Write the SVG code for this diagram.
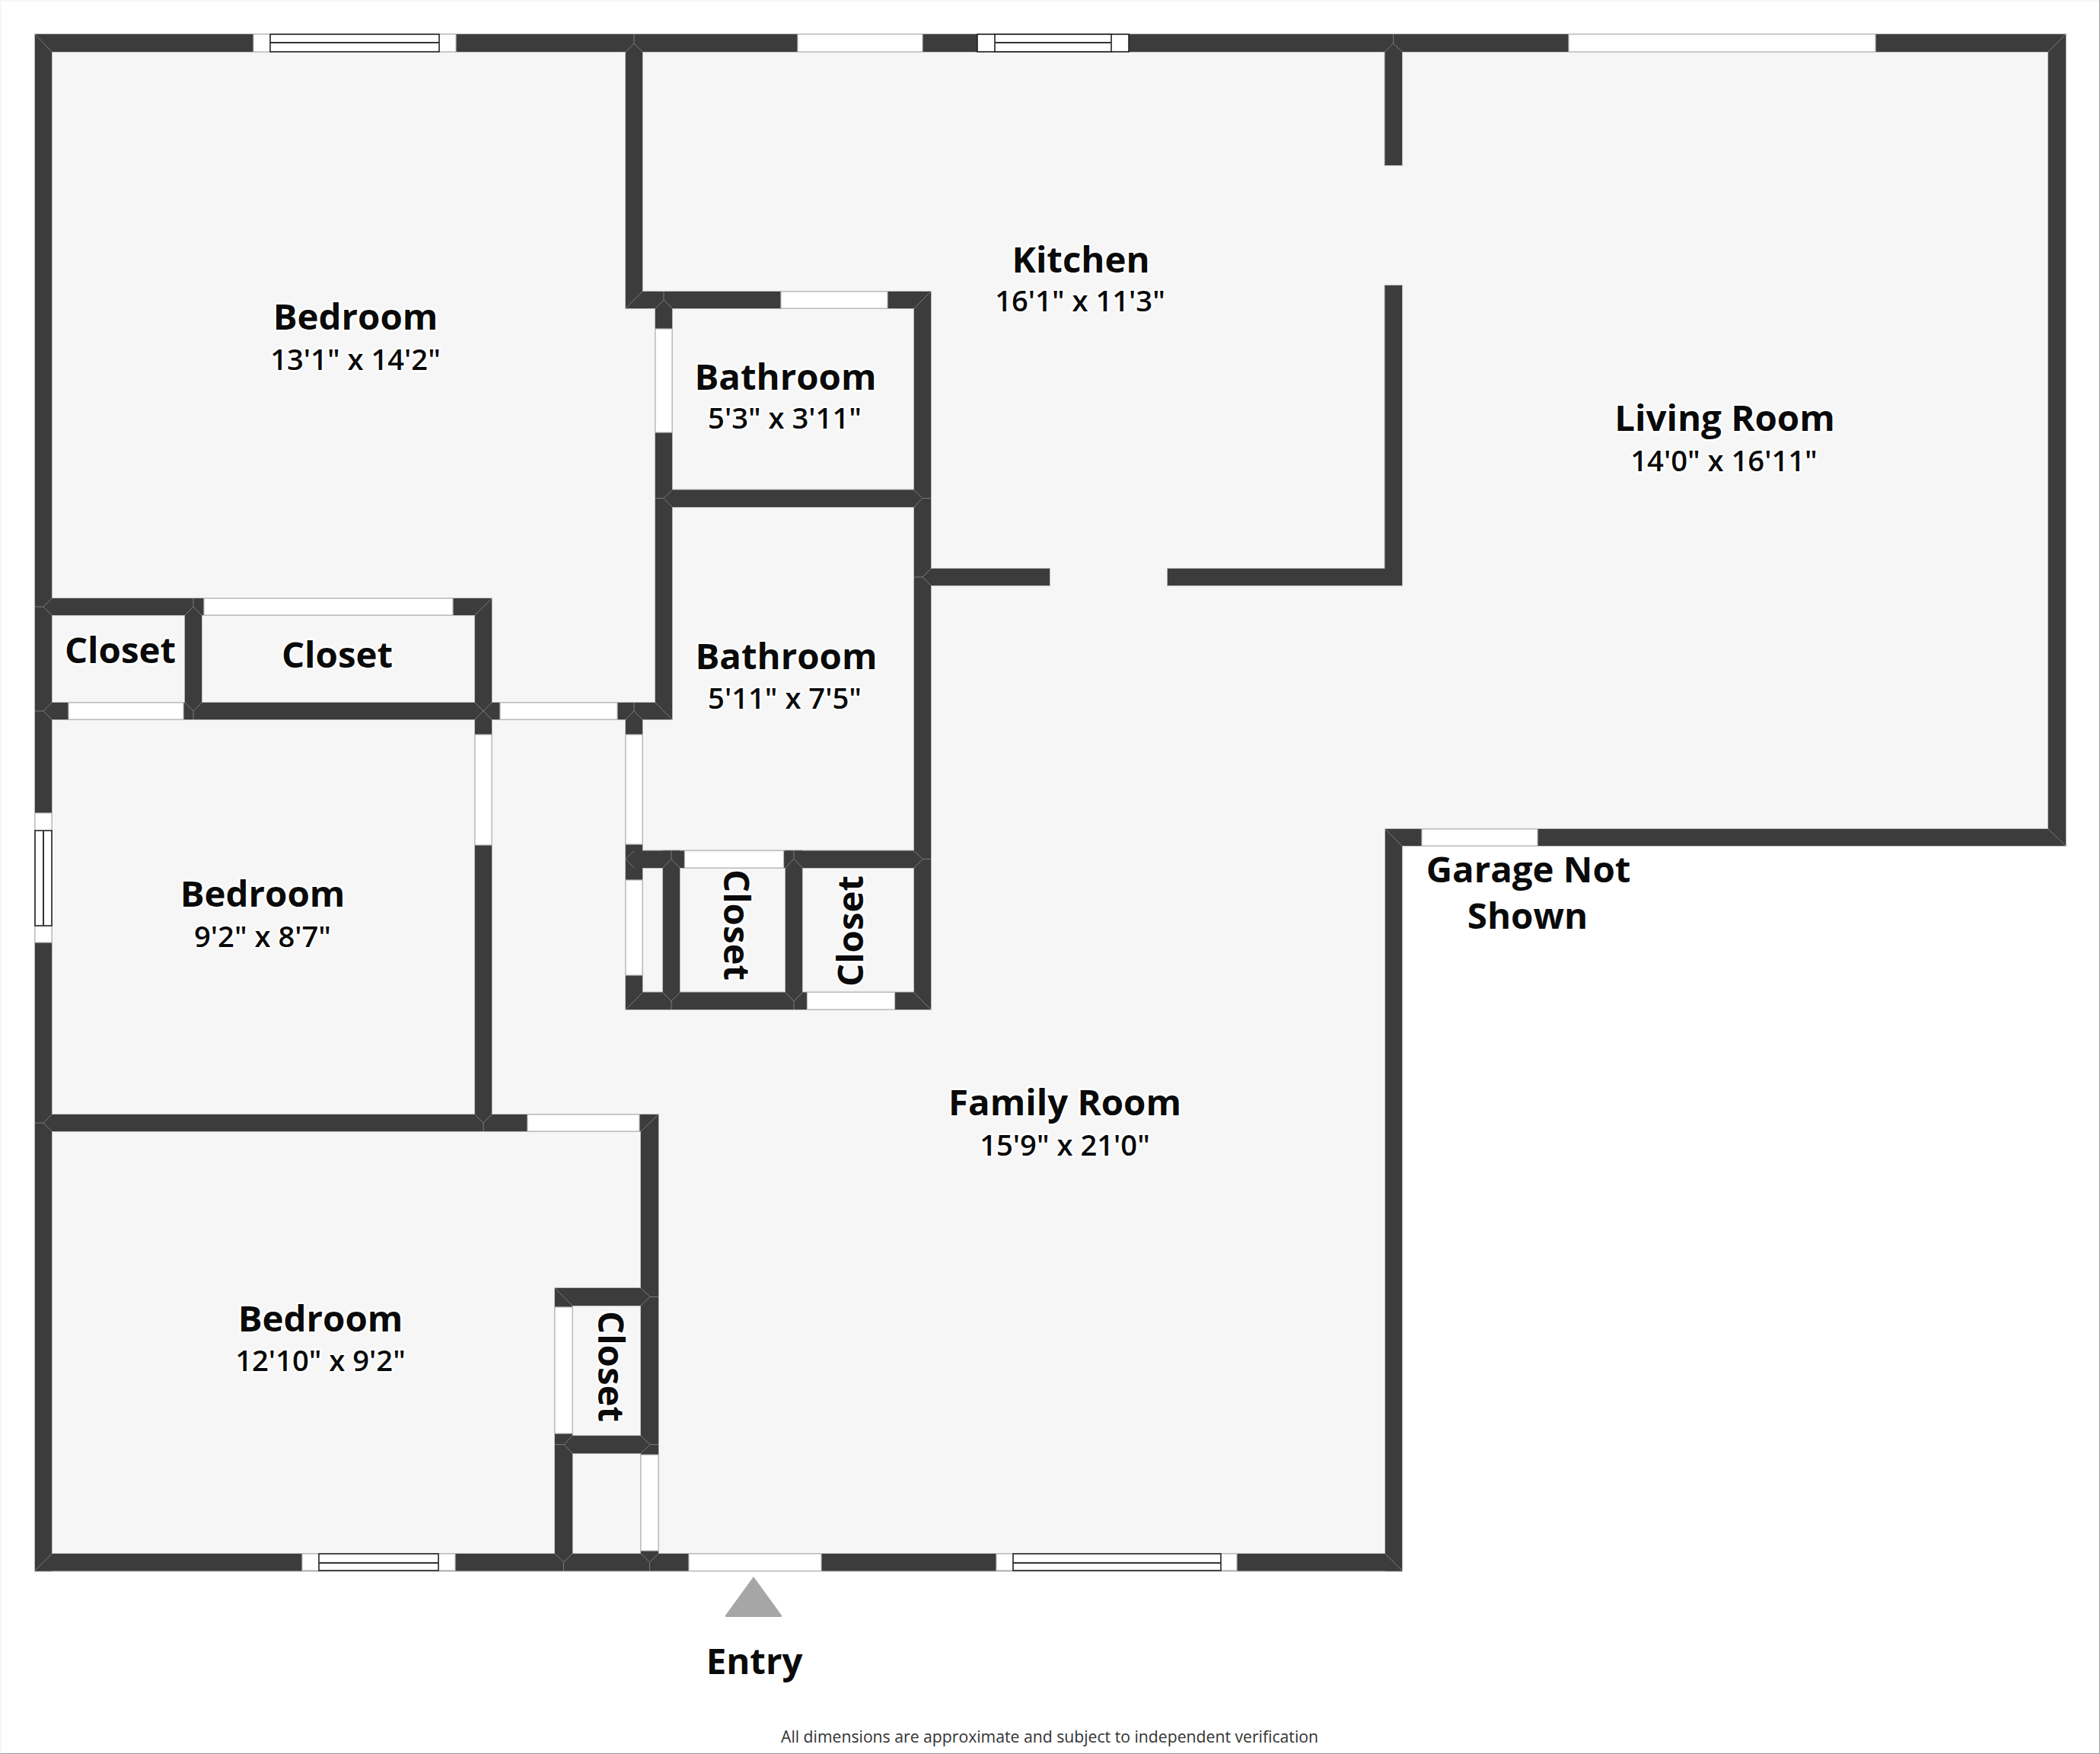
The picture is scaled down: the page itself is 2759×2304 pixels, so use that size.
<svg xmlns="http://www.w3.org/2000/svg" xmlns:xlink="http://www.w3.org/1999/xlink" width="2759" height="2304" viewBox="0 0 2759 2304">
<style>
.floor{fill:#f6f6f6}
.open{fill:#fff;stroke:#bdbdbd;stroke-width:1.2}
.frame{fill:#fff;stroke:#222;stroke-width:1.6}
.sash{fill:none;stroke:#333;stroke-width:2}
.miter{fill:none;stroke:#7a7a7a;stroke-width:1}
text{font-family:"Open Sans","Noto Sans","Liberation Sans",sans-serif;fill:#0a0a0a;stroke:#fff;stroke-width:5px;stroke-linejoin:round;paint-order:stroke;text-anchor:middle}
.name{font-size:47.400px;font-weight:700}
.dim{font-size:38.200px;font-weight:600}
.note{font-size:21.200px;font-weight:400;fill:#333;stroke:none}
</style>
<defs>
<g id="wallset">
<rect x="46" y="45" width="2668" height="23"/>
<rect x="46" y="45" width="22" height="2018.500"/>
<rect x="46" y="2041" width="1796" height="22.500"/>
<rect x="2691" y="45" width="23" height="1066"/>
<rect x="1820" y="1089" width="894" height="22"/>
<rect x="1820" y="1089" width="22" height="974.500"/>
<rect x="1819.500" y="45" width="22.500" height="172"/>
<rect x="1819.500" y="375" width="22.500" height="394"/>
<rect x="1534" y="747" width="308" height="22"/>
<rect x="1223" y="747" width="156" height="22"/>
<rect x="822" y="45" width="22" height="360"/>
<rect x="822" y="383" width="401" height="22"/>
<rect x="1201" y="383" width="22" height="943"/>
<rect x="861" y="405" width="22" height="540"/>
<rect x="861" y="643.500" width="362" height="22.500"/>
<rect x="46" y="786" width="600" height="22"/>
<rect x="243" y="786" width="22" height="159"/>
<rect x="624" y="786" width="22" height="700"/>
<rect x="46" y="923" width="837" height="22"/>
<rect x="822" y="923" width="22" height="403"/>
<rect x="822" y="1117.500" width="401" height="22.500"/>
<rect x="871" y="1117.500" width="22" height="208.500"/>
<rect x="1032" y="1117.500" width="22" height="208.500"/>
<rect x="822" y="1303.500" width="401" height="22.500"/>
<rect x="46" y="1464" width="819" height="22"/>
<rect x="842" y="1464" width="23" height="599"/>
<rect x="729" y="1692" width="136" height="23"/>
<rect x="729" y="1692" width="23" height="371"/>
<rect x="729" y="1886" width="136" height="23"/>
</g>
</defs>
<rect id="background" width="2759" height="2304" fill="#fff"/>
<path id="sheet-edge" d="M1 2303V1H2758" fill="none" stroke="#eee" stroke-width="1"/>
<path id="sheet-edge-dark" d="M2758.500 0V2303.500H0" fill="none" stroke="#9a9a9a" stroke-width="1"/>
<path id="floor" class="floor" d="M46 45H2714V1100H1842V2063H46Z"/>
<g id="walls">
<use xlink:href="#wallset" href="#wallset" fill="#bbb" stroke="#bbb" stroke-width="2"/>
<use xlink:href="#wallset" href="#wallset" fill="#3c3c3c"/>
</g>
<path id="wall-joints" class="miter" d="M46 45L68 68M833 45V57L822 68M833 57L844 68M822 405L844 383M872 383V394L861 405M872 394L883 405M1223 383L1201 405M1830.500 45V57L1819.500 68M1830.500 57L1842 68M2714 45L2691 68M2691 1089L2714 1111M1820 1089L1842 1111M1820 2041L1842 2063M46 2063L68 2041M46 797H57L68 786M57 797L68 808M254 786V797L243 808M254 797L265 808M646 786L624 808M46 934H57L68 923M57 934L68 945M254 945V934L243 923M254 934L265 923M635 934L624 923M635 934L646 923M635 934L624 945M635 934L646 945M833 923V934L822 945M833 934L844 945M883 945L861 923M822 1128.500L833 1117.500M822 1128.500L833 1140M882 1117.500V1128L871 1140M882 1128L893 1140M1043 1117.500V1128L1032 1140M1043 1128L1054 1140M1223 1128.500H1212L1201 1117.500M1212 1128.500L1201 1140M822 1326L844 1304M882 1326V1315L871 1304M882 1315L893 1304M1043 1326V1315L1032 1304M1043 1315L1054 1304M1223 1326L1201 1304M861 654.500H872L883 643.500M872 654.500L883 666M1223 654.500H1212L1201 643.500M1212 654.500L1201 666M1201 758H1212L1223 747M1212 758L1223 769M46 1475H57L68 1464M57 1475L68 1486M635 1486V1475L624 1464M635 1475L646 1464M865 1464L842 1486M729 1692L752 1715M865 1703.500H854L842 1692M854 1703.500L842 1715M729 1897.500H741L752 1886M741 1897.500L752 1909M865 1897.500H854L842 1886M854 1897.500L842 1909M740.500 2063V2052L729 2041M740.500 2052L752 2041M853.500 2063V2052L842 2041M853.500 2052L865 2041"/>
<g id="openings">
<rect class="open" x="1048" y="45" width="164" height="23"/>
<rect class="open" x="2061" y="45" width="403" height="23"/>
<rect class="open" x="1026" y="383" width="140" height="22"/>
<rect class="open" x="861" y="432" width="22" height="136"/>
<rect class="open" x="268" y="786" width="327" height="22"/>
<rect class="open" x="90" y="923" width="151" height="22"/>
<rect class="open" x="657" y="923" width="154" height="22"/>
<rect class="open" x="624" y="965" width="22" height="145"/>
<rect class="open" x="822" y="965" width="22" height="144"/>
<rect class="open" x="822" y="1156" width="22" height="125"/>
<rect class="open" x="899.500" y="1117.500" width="130" height="22.500"/>
<rect class="open" x="1060.500" y="1303.500" width="115" height="22.500"/>
<rect class="open" x="693" y="1464" width="147" height="22"/>
<rect class="open" x="729" y="1717" width="23" height="166"/>
<rect class="open" x="842" y="1911" width="23" height="126"/>
<rect class="open" x="905" y="2041" width="174" height="22.500"/>
<rect class="open" x="1868" y="1089" width="152" height="22"/>
</g>
<g id="windows">
<g id="window-bedroom-top"><rect class="open" x="333" y="45" width="266" height="23"/><rect class="frame" x="355" y="45" width="222" height="23"/><path class="sash" d="M355 56H577"/></g>
<g id="window-kitchen"><rect class="frame" x="1284" y="45" width="199" height="23"/><rect class="frame" x="1307" y="45" width="153" height="23"/><path class="sash" d="M1307 56H1460"/></g>
<g id="window-bedroom-left"><rect class="open" x="46" y="1068" width="22" height="170"/><rect class="frame" x="46" y="1091" width="22" height="125"/><path class="sash" d="M57 1091V1216"/></g>
<g id="window-bedroom-bottom"><rect class="open" x="397" y="2041" width="201" height="22"/><rect class="frame" x="419" y="2041" width="157" height="22"/><path class="sash" d="M419 2053H576"/></g>
<g id="window-family"><rect class="open" x="1309" y="2041" width="316" height="22"/><rect class="frame" x="1331" y="2041" width="273" height="22"/><path class="sash" d="M1331 2053H1604"/></g>
</g>
<path id="entry-arrow" d="M990 2071L1027 2122Q1028 2124 1026 2124H954Q952 2124 953 2122Z" fill="#a6a6a6"/>
<g id="room-bedroom-1"><text class="name" x="467" y="433">Bedroom</text><text class="dim" x="467" y="486">13'1" x 14'2"</text></g>
<g id="room-kitchen"><text class="name" x="1420" y="358">Kitchen</text><text class="dim" x="1419" y="409">16'1" x 11'3"</text></g>
<g id="room-bathroom-1"><text class="name" x="1032" y="512">Bathroom</text><text class="dim" x="1031" y="563">5'3" x 3'11"</text></g>
<g id="room-bathroom-2"><text class="name" x="1033" y="879">Bathroom</text><text class="dim" x="1031" y="931">5'11" x 7'5"</text></g>
<g id="room-living"><text class="name" x="2266" y="566">Living Room</text><text class="dim" x="2265" y="619">14'0" x 16'11"</text></g>
<g id="room-closet-1"><text class="name" x="158" y="871">Closet</text></g>
<g id="room-closet-2"><text class="name" x="443" y="877">Closet</text></g>
<g id="room-closet-3"><text class="name" transform="translate(951 1215) rotate(90)">Closet</text></g>
<g id="room-closet-4"><text class="name" transform="translate(1134 1223) rotate(-90)">Closet</text></g>
<g id="room-closet-5"><text class="name" transform="translate(785.500 1795) rotate(90)">Closet</text></g>
<g id="room-bedroom-2"><text class="name" x="345" y="1191">Bedroom</text><text class="dim" x="345" y="1244">9'2" x 8'7"</text></g>
<g id="room-bedroom-3"><text class="name" x="421" y="1749">Bedroom</text><text class="dim" x="421" y="1801">12'10" x 9'2"</text></g>
<g id="room-family"><text class="name" x="1399" y="1465">Family Room</text><text class="dim" x="1399" y="1518">15'9" x 21'0"</text></g>
<g id="label-garage"><text class="name" x="2008" y="1159">Garage Not</text><text class="name" x="2007" y="1220">Shown</text></g>
<g id="label-entry"><text class="name" x="991" y="2199">Entry</text></g>
<text id="note" class="note" x="1379" y="2289">All dimensions are approximate and subject to independent verification</text>
</svg>
